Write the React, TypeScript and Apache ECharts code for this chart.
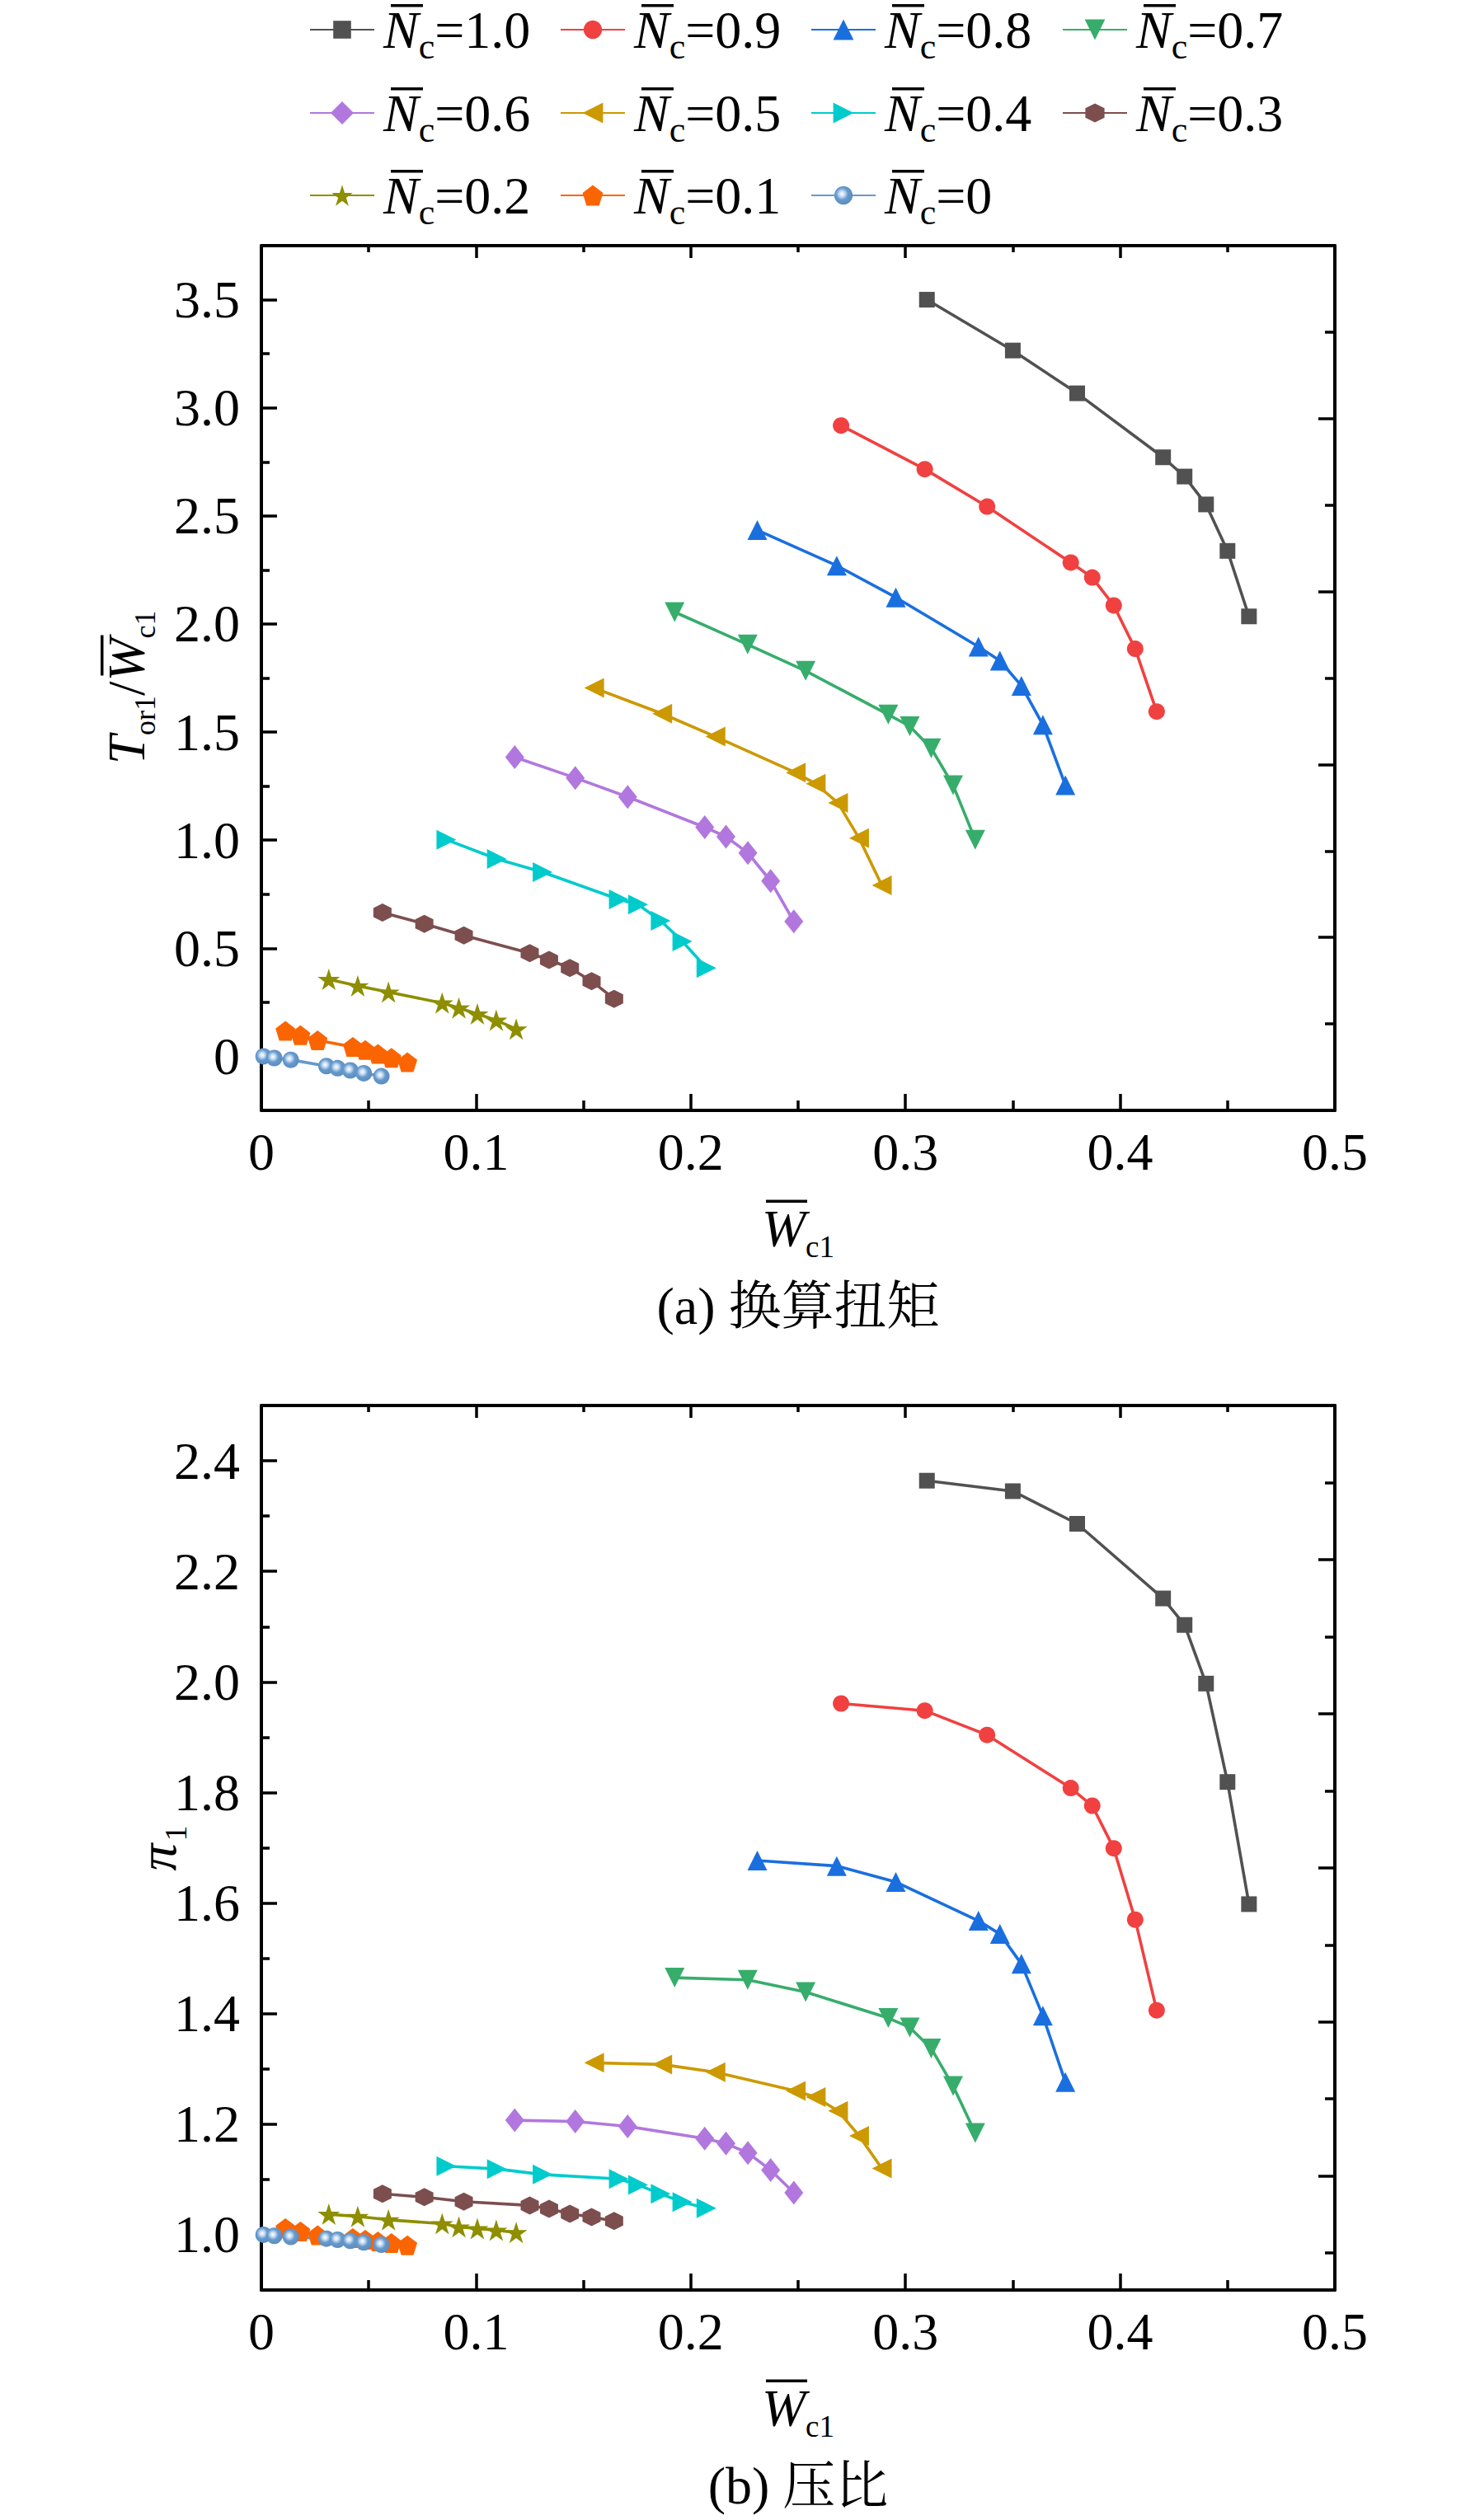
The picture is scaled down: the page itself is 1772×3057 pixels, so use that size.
import React, { useEffect, useRef } from "react";
import * as echarts from "echarts";

// ---------- data ----------
const speedLabels = ["1.0", "0.9", "0.8", "0.7", "0.6", "0.5", "0.4", "0.3", "0.2", "0.1", "0"];

const wc_10 = [0.31, 0.35, 0.38, 0.42, 0.43, 0.44, 0.45, 0.46];
const tq_10 = [3.5, 3.265, 3.067, 2.771, 2.682, 2.553, 2.338, 2.035];
const pr_10 = [2.364, 2.345, 2.286, 2.151, 2.103, 1.997, 1.819, 1.598];

const wc_09 = [0.27, 0.309, 0.338, 0.377, 0.387, 0.397, 0.407, 0.417];
const tq_09 = [2.918, 2.716, 2.543, 2.284, 2.215, 2.086, 1.885, 1.595];
const pr_09 = [1.961, 1.948, 1.904, 1.808, 1.776, 1.699, 1.57, 1.406];

const wc_08 = [0.231, 0.268, 0.2955, 0.334, 0.344, 0.354, 0.364, 0.3745];
const tq_08 = [2.434, 2.27, 2.123, 1.895, 1.83, 1.714, 1.534, 1.254];
const pr_08 = [1.677, 1.667, 1.638, 1.568, 1.544, 1.49, 1.396, 1.276];

const wc_07 = [0.1925, 0.2265, 0.2535, 0.292, 0.302, 0.312, 0.3222, 0.3325];
const tq_07 = [2.055, 1.905, 1.783, 1.581, 1.527, 1.425, 1.254, 1.002];
const pr_07 = [1.465, 1.461, 1.439, 1.392, 1.375, 1.337, 1.269, 1.184];

const wc_06 = [0.118, 0.1462, 0.1706, 0.2065, 0.2164, 0.2266, 0.2372, 0.248];
const tq_06 = [1.384, 1.288, 1.2, 1.06, 1.016, 0.941, 0.811, 0.624];
const pr_06 = [1.207, 1.205, 1.196, 1.174, 1.165, 1.148, 1.117, 1.076];

const wc_05 = [0.155, 0.1867, 0.2115, 0.2489, 0.2582, 0.2686, 0.2784, 0.289];
const tq_05 = [1.704, 1.585, 1.479, 1.312, 1.261, 1.172, 1.009, 0.791];
const pr_05 = [1.311, 1.308, 1.294, 1.26, 1.249, 1.224, 1.179, 1.12];

const wc_04 = [0.0862, 0.1097, 0.131, 0.1665, 0.1755, 0.186, 0.1961, 0.2073];
const tq_04 = [1.002, 0.913, 0.852, 0.726, 0.702, 0.627, 0.532, 0.409];
const pr_04 = [1.124, 1.119, 1.109, 1.101, 1.09, 1.074, 1.059, 1.048];

const wc_03 = [0.0564, 0.0759, 0.0943, 0.125, 0.134, 0.1437, 0.1538, 0.1643];
const tq_03 = [0.665, 0.613, 0.559, 0.477, 0.446, 0.409, 0.348, 0.266];
const pr_03 = [1.074, 1.068, 1.06, 1.053, 1.047, 1.038, 1.032, 1.025];

const wc_02 = [0.0314, 0.0449, 0.0592, 0.0842, 0.092, 0.1006, 0.1094, 0.1187];
const tq_02 = [0.356, 0.326, 0.297, 0.247, 0.224, 0.196, 0.167, 0.126];
const pr_02 = [1.037, 1.033, 1.027, 1.02, 1.014, 1.011, 1.008, 1.004];

const wc_01 = [0.0112, 0.0182, 0.0262, 0.0426, 0.0484, 0.0543, 0.0606, 0.068];
const tq_01 = [0.118, 0.098, 0.074, 0.044, 0.029, 0.011, -0.007, -0.027];
const pr_01 = [1.012, 1.006, 0.999, 0.994, 0.991, 0.988, 0.985, 0.981];

const wc_00 = [0.001, 0.006, 0.0137, 0.0303, 0.0355, 0.0414, 0.0477, 0.0559];
const tq_00 = [0.0, -0.008, -0.016, -0.045, -0.055, -0.065, -0.078, -0.092];
const pr_00 = [1.0, 0.998, 0.996, 0.993, 0.991, 0.989, 0.986, 0.982];

const torqueTicks = [0, 0.5, 1.0, 1.5, 2.0, 2.5, 3.0, 3.5];
const torqueMinor = [0.25, 0.75, 1.25, 1.75, 2.25, 2.75, 3.25];
const prTicks = [1.0, 1.2, 1.4, 1.6, 1.8, 2.0, 2.2, 2.4];
const prMinor = [1.1, 1.3, 1.5, 1.7, 1.9, 2.1, 2.3];

const wcSets = [wc_10, wc_09, wc_08, wc_07, wc_06, wc_05, wc_04, wc_03, wc_02, wc_01, wc_00];
const tqSets = [tq_10, tq_09, tq_08, tq_07, tq_06, tq_05, tq_04, tq_03, tq_02, tq_01, tq_00];
const prSets = [pr_10, pr_09, pr_08, pr_07, pr_06, pr_05, pr_04, pr_03, pr_02, pr_01, pr_00];

// ---------- styles ----------
const colors = [
  "#515151", "#F14040", "#1A6FDF", "#37AD6B", "#B177DE", "#CC9900",
  "#00CBCC", "#7D4E4E", "#8E8E00", "#FB6501", "#6699CC",
];
const P_DOWN = "path://M0,0 L100,0 L50,100 Z";
const P_LEFT = "path://M0,50 L100,0 L100,100 Z";
const P_RIGHT = "path://M0,0 L100,50 L0,100 Z";
const P_HEX = "path://M50,0 L93.3,25 L93.3,75 L50,100 L6.7,75 L6.7,25 Z";
const P_STAR = "path://M50,0 L61.2,34.6 L97.6,34.5 L68.1,55.9 L79.4,90.5 L50,69 L20.6,90.5 L31.9,55.9 L2.4,34.5 L38.8,34.6 Z";
const P_PENT = "path://M50,0 L97.6,34.5 L79.4,90.5 L20.6,90.5 L2.4,34.5 Z";
const symbols = ["rect", "circle", "triangle", P_DOWN, "diamond", P_LEFT, P_RIGHT, P_HEX, P_STAR, P_PENT, "circle"];
const symbolSizes: any[] = [19, 20, 24, 24, [23, 29], 24, 24, 22, [27, 26], 24, 20];
const legendItemH = [27, 28, 31, 31, 35, 31, 31, 29, 32, 31, 28];

const SERIF = "'Liberation Serif', 'Times New Roman', serif";
const CAPTION_FONT = "'Liberation Serif', 'Noto Serif CJK SC', 'Noto Sans CJK SC', serif";

// layout
const GL = 317;
const GW = 1302;
const G1T = 298;
const G1H = 1049;
const G2T = 1705;
const G2H = 1073;
const CX = GL + GW / 2;

const legendCols = [375, 679, 983, 1288];
const legendRows = [36, 137, 237];
const LEG_LH = 50;

function sphereColor() {
  return {
    type: "radial", x: 0.42, y: 0.42, r: 0.6,
    colorStops: [
      { offset: 0, color: "#ffffff" },
      { offset: 0.25, color: "#c6dcf2" },
      { offset: 0.55, color: "#6699CC" },
      { offset: 1, color: "#5b8cc0" },
    ],
  };
}

function xAxisDef(grid: number, pos: "bottom" | "top") {
  const main = pos === "bottom";
  return {
    type: "value", gridIndex: grid, position: pos, min: 0, max: 0.5, interval: 0.1,
    axisLine: { show: true, onZero: false, lineStyle: { color: "#000", width: 4 } },
    axisTick: { show: true, inside: true, length: main ? 20 : 15, lineStyle: { color: "#000", width: 3.5 } },
    minorTick: { show: true, splitNumber: 2, length: main ? 12 : 8, lineStyle: { color: "#000", width: 3.5 } },
    axisLabel: {
      show: main, margin: 18, fontSize: 64, fontFamily: SERIF, color: "#000",
      formatter: (v: number) => (v === 0 ? "0" : v.toFixed(1)),
    },
    splitLine: { show: false }, minorSplitLine: { show: false },
  };
}

export default function App() {
  const ref = useRef<HTMLDivElement>(null);
  useEffect(() => {
    if (!ref.current) return;
    const chart = echarts.init(ref.current, null, { renderer: "svg" });

    const names = speedLabels.map((s) => "Nc=" + s);
    const series: any[] = [];
    names.forEach((name, i) => {
      const itemColor = i === 10 ? sphereColor() : colors[i];
      const common = {
        name, type: "line", symbol: symbols[i], symbolSize: symbolSizes[i],
        lineStyle: { color: colors[i], width: 3.6 },
        itemStyle: { color: itemColor, borderWidth: 0 },
        emphasis: { disabled: true }, silent: true, clip: true,
      };
      series.push({ ...common, xAxisIndex: 0, yAxisIndex: 0, data: wcSets[i].map((x, j) => [x, tqSets[i][j]]) });
      series.push({ ...common, xAxisIndex: 2, yAxisIndex: 3, data: wcSets[i].map((x, j) => [x, prSets[i][j]]) });
    });

    const legendRich = {
      n: { fontFamily: SERIF, fontStyle: "italic", fontSize: 64, lineHeight: LEG_LH, height: LEG_LH, color: "#000", padding: [0, 0, 0, 6] },
      s: { fontFamily: SERIF, fontSize: 44, lineHeight: LEG_LH, height: LEG_LH - 40, color: "#000", padding: [40, 0, 0, 0] },
      v: { fontFamily: SERIF, fontSize: 64, lineHeight: LEG_LH, height: LEG_LH, color: "#000" },
    };
    const legends = names.map((name, i) => ({
      data: [name], show: true, orient: "horizontal", padding: 0,
      left: legendCols[i % 4], top: legendRows[Math.floor(i / 4)] - 32,
      itemWidth: 78, itemHeight: legendItemH[i], selectedMode: false,
      formatter: () => `{n|N}{s|c}{v|=${speedLabels[i]}}`,
      textStyle: { rich: legendRich },
    }));

    const graphics: any[] = [];
    // legend overbars
    names.forEach((_, i) => {
      const lx = legendCols[i % 4];
      const cy = legendRows[Math.floor(i / 4)];
      graphics.push({ type: "rect", shape: { x: lx + 99, y: cy - 31, width: 39, height: 3.5 }, style: { fill: "#000" } });
    });
    // x titles & captions
    const xTitle = (B: number) => [
      { type: "text", x: 924, y: B + 143, style: { text: "W", fontSize: 64, fontStyle: "italic", fontFamily: SERIF, fill: "#000", align: "left", verticalAlign: "middle" } },
      { type: "text", x: 977, y: B + 165, style: { text: "c1", fontSize: 37, fontFamily: SERIF, fill: "#000", align: "left", verticalAlign: "middle" } },
      { type: "rect", shape: { x: 929, y: B + 108.5, width: 50, height: 3.5 }, style: { fill: "#000" } },
    ];
    const caption = (B: number, text: string) => ({
      type: "text", x: CX, y: B + 237, style: { text, fontSize: 64, fontFamily: CAPTION_FONT, fill: "#000", align: "center", verticalAlign: "middle" },
    });
    const B1 = G1T + G1H;
    const B2 = G2T + G2H;
    graphics.push(...xTitle(B1), caption(B1, "(a) 换算扭矩"));
    graphics.push(...xTitle(B2), caption(B2, "(b) 压比"));

    // y title top: T_or1 / W̄_c1 (rotated)
    const FM = 63;
    const FS = 36;
    const mainMid = -0.3375 * FM;
    const subMid = 13 - 0.3375 * FS;
    graphics.push({
      type: "group", x: 175, y: 834, rotation: Math.PI / 2,
      children: [
        { type: "text", x: -93, y: mainMid, style: { text: "T", fontSize: FM, fontStyle: "italic", fontFamily: SERIF, fill: "#000", align: "left", verticalAlign: "middle" } },
        { type: "text", x: -58, y: subMid, style: { text: "or1", fontSize: FS, fontFamily: SERIF, fill: "#000", align: "left", verticalAlign: "middle" } },
        { type: "text", x: -10, y: mainMid, style: { text: "/", fontSize: FM, fontFamily: SERIF, fill: "#000", align: "left", verticalAlign: "middle" } },
        { type: "text", x: 7.5, y: mainMid, style: { text: "W", fontSize: FM, fontStyle: "italic", fontFamily: SERIF, fill: "#000", align: "left", verticalAlign: "middle" } },
        { type: "text", x: 59.5, y: subMid, style: { text: "c1", fontSize: FS, fontFamily: SERIF, fill: "#000", align: "left", verticalAlign: "middle" } },
        { type: "rect", shape: { x: 14.5, y: -53, width: 49, height: 3.5 }, style: { fill: "#000" } },
      ],
    });
    // y title bottom: π1
    graphics.push({
      type: "group", x: 213, y: G2T + G2H / 2, rotation: Math.PI / 2,
      children: [
        { type: "text", x: -28, y: -0.3375 * 66, style: { text: "π", fontSize: 66, fontStyle: "italic", fontFamily: SERIF, fill: "#000", align: "left", verticalAlign: "middle" } },
        { type: "text", x: 8, y: 13 - 0.3375 * 38, style: { text: "1", fontSize: 38, fontFamily: SERIF, fill: "#000", align: "left", verticalAlign: "middle" } },
      ],
    });

    const yLabel = { show: true, margin: 26, fontSize: 64, fontFamily: SERIF, color: "#000" };
    const axisLineOn = { show: true, onZero: false, lineStyle: { color: "#000", width: 4 } };
    const tickStyle = { color: "#000", width: 3.5 };

    const option: any = {
      animation: false,
      backgroundColor: "#fff",
      grid: [
        { left: GL, top: G1T, width: GW, height: G1H, containLabel: false, outerBoundsMode: "none" },
        { left: GL, top: G2T, width: GW, height: G2H, containLabel: false, outerBoundsMode: "none" },
      ],
      xAxis: [xAxisDef(0, "bottom"), xAxisDef(0, "top"), xAxisDef(1, "bottom"), xAxisDef(1, "top")],
      yAxis: [
        {
          type: "value", gridIndex: 0, position: "left", min: -0.25, max: 3.75,
          axisLine: axisLineOn,
          axisTick: { show: true, inside: true, length: 19, lineStyle: tickStyle, customValues: torqueTicks },
          axisLabel: { ...yLabel, customValues: torqueTicks, formatter: (v: number) => (v === 0 ? "0" : v.toFixed(1)) },
          splitLine: { show: false },
        },
        {
          type: "value", gridIndex: 0, position: "left", offset: 0, min: -0.25, max: 3.75,
          axisLine: { show: false, onZero: false },
          axisTick: { show: true, inside: true, length: 10, lineStyle: tickStyle, customValues: torqueMinor },
          axisLabel: { show: false },
          splitLine: { show: false },
        },
        {
          type: "value", gridIndex: 0, position: "right", min: 0, max: 5, interval: 1,
          axisLine: axisLineOn,
          axisTick: { show: true, inside: true, length: 20, lineStyle: tickStyle },
          minorTick: { show: true, splitNumber: 2, length: 12, lineStyle: tickStyle },
          axisLabel: { show: false }, splitLine: { show: false }, minorSplitLine: { show: false },
        },
        {
          type: "value", gridIndex: 1, position: "left", min: 0.9, max: 2.5,
          axisLine: axisLineOn,
          axisTick: { show: true, inside: true, length: 19, lineStyle: tickStyle, customValues: prTicks },
          axisLabel: { ...yLabel, customValues: prTicks, formatter: (v: number) => v.toFixed(1) },
          splitLine: { show: false },
        },
        {
          type: "value", gridIndex: 1, position: "left", offset: 0, min: 0.9, max: 2.5,
          axisLine: { show: false, onZero: false },
          axisTick: { show: true, inside: true, length: 10, lineStyle: tickStyle, customValues: prMinor },
          axisLabel: { show: false },
          splitLine: { show: false },
        },
        {
          type: "value", gridIndex: 1, position: "right", inverse: true, min: 0, max: 5.74, interval: 1,
          axisLine: axisLineOn,
          axisTick: { show: true, inside: true, length: 20, lineStyle: tickStyle },
          minorTick: { show: true, splitNumber: 2, length: 12, lineStyle: tickStyle },
          axisLabel: { show: false }, splitLine: { show: false }, minorSplitLine: { show: false },
        },
      ],
      legend: legends,
      series,
      graphic: graphics,
    };
    chart.setOption(option);
    return () => chart.dispose();
  }, []);

  return (
    <div
      ref={ref}
      style={{ position: "absolute", left: 0, top: 0, width: 1772, height: 3057, background: "#fff" }}
    />
  );
}
